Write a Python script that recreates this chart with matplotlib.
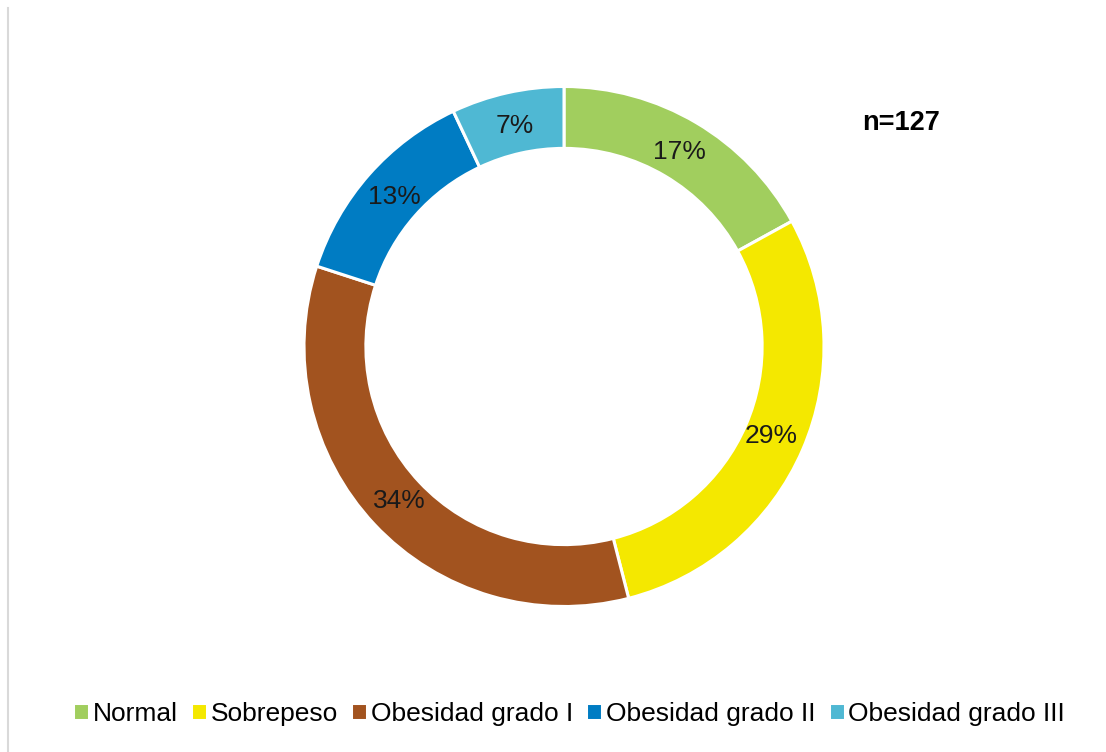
import matplotlib.pyplot as plt
from matplotlib.lines import Line2D

plt.rcParams['font.family'] = ['Liberation Sans', 'DejaVu Sans']

# Datos
categorias = ['Normal', 'Sobrepeso', 'Obesidad grado I', 'Obesidad grado II', 'Obesidad grado III']
porcentajes = [17, 29, 34, 13, 7]
colores = ['#A1CE5E', '#F4E800', '#A2531F', '#007CC3', '#4FB8D3']
n_total = 'n=127'

fig = plt.figure(figsize=(11.06, 7.52), dpi=100)

# Línea gris a la izquierda
fig.add_artist(Line2D([8 / 1106, 8 / 1106], [0, 1 - 8 / 752], color='#D9D9D9', lw=1.5))

# Donut
cx, cy, r = 564, 346.5, 260
ax = fig.add_axes([(cx - r) / 1106, (752 - cy - r) / 752, 2 * r / 1106, 2 * r / 752])
wedges, textos, autotextos = ax.pie(
    porcentajes, colors=colores, startangle=90, counterclock=False,
    autopct='%d%%', pctdistance=0.87, radius=1,
    wedgeprops=dict(width=0.238, edgecolor='white', linewidth=2.2),
    textprops=dict(fontsize=19, color='#1a1a1a'))
ax.set_xlim(-1, 1)
ax.set_ylim(-1, 1)
ax.set_aspect('equal')
ax.axis('off')

fig.text(901 / 1106, 1 - 123 / 752, n_total, fontsize=19.5, fontweight='bold',
         ha='center', va='center')

fig.legend(wedges, categorias, loc='center', bbox_to_anchor=(569 / 1106, 1 - 714 / 752),
           ncol=5, frameon=False, fontsize=19, handlelength=0.6, handleheight=0.6,
           handletextpad=0.15, columnspacing=0.5, borderaxespad=0)

fig.savefig('out.png', dpi=100)
